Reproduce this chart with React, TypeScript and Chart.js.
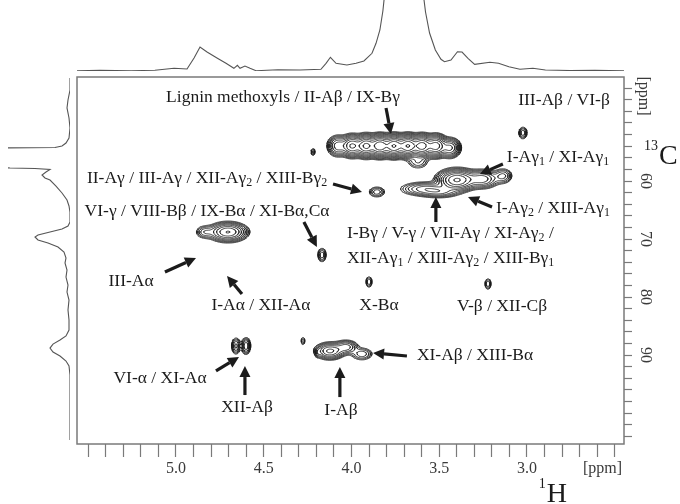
import React, { useEffect, useRef } from 'react';
import { Chart, registerables } from 'chart.js';

Chart.register(...registerables);

// Spectral window (ppm): 1H along x (reversed), 13C along y (reversed)
const H_LEFT = 5.564;
const H_RIGHT = 2.447;
const C_TOP = 42.07;
const C_BOTTOM = 105.34;

// Cross-peaks: 1H shift, 13C shift, height, 1H width, 13C width
const peakH = [
  4.077, 3.997, 3.917, 3.838, 3.758, 3.678, 3.598, 3.519, 3.439,
  3.399, 3.256, 3.581, 3.137, 3.621, 3.496,
  3.023, 3.855, 4.168, 3.9, 3.222,
  4.704, 4.835, 4.658, 4.601,
  4.123, 4.031, 3.94, 4.276, 4.191, 4.219,
];
const peakC = [
  53.96, 53.96, 53.96, 53.96, 53.96, 53.96, 53.96, 53.96, 54.3,
  59.83, 59.66, 61.37, 59.14, 56.73, 61.89,
  51.72, 61.89, 72.76, 77.41, 77.76,
  68.8, 68.8, 88.45, 88.45,
  89.31, 88.63, 89.83, 87.59, 89.65, 55.0,
];
const peakAmp = [
  12, 30, 45, 55, 60, 60, 50, 35, 15,
  30, 12, 8, 5, 3, 6,
  4, 4, 4, 3, 3,
  20, 4, 5, 6,
  15, 8, 4, 2, 2, 2.5,
];
const peakWH = [
  0.0285, 0.0285, 0.0285, 0.0285, 0.0285, 0.0285, 0.0285, 0.0285, 0.0285,
  0.051, 0.046, 0.068, 0.028, 0.034, 0.057,
  0.0142, 0.0256, 0.0142, 0.0114, 0.0114,
  0.051, 0.0285, 0.0142, 0.0142,
  0.04, 0.034, 0.034, 0.0085, 0.0085, 0.0085,
];
const peakWC = [
  0.86, 0.86, 0.86, 0.86, 0.86, 0.86, 0.86, 0.86, 0.8,
  0.862, 0.776, 0.603, 0.689, 0.689, 0.518,
  0.603, 0.518, 0.689, 0.603, 0.603,
  0.776, 0.603, 0.776, 0.776,
  0.689, 0.603, 0.603, 0.518, 0.431, 0.431,
];

// Contour levels (geometric)
const contourBase = 1;
const contourRatio = 1.45;
const contourCount = 14;

// F2 (1H) projection
const topH = [
  5.564, 5.433, 5.256, 5.12, 5.011, 4.937, 4.897, 4.863, 4.823, 4.764, 4.715, 4.67, 4.65,
  4.635, 4.607, 4.578, 4.544, 4.419, 4.293, 4.174, 4.145, 4.12, 4.088, 4.026, 3.974, 3.929,
  3.883, 3.86, 3.838, 3.821, 3.803, 3.6, 3.578, 3.555, 3.522, 3.49, 3.47, 3.433, 3.396,
  3.37, 3.336, 3.298, 3.211, 3.162, 3.103, 3.04, 2.966, 2.895, 2.755, 2.613, 2.447,
];
const topI = [
  0.3, 0.8, 0.3, 0.8, 2.7, 2, 13, 24, 19, 12.7, 7.7, 2.7, 5.7,
  2.7, 5, 2.7, 0.3, 1.3, 1.0, 1.7, 7.7, 13.7, 7.7, 6, 7.7, 10,
  17.7, 27.7, 41, 60, 90, 90, 59, 38, 21, 11.7, 9.3, 11, 19.3,
  19, 12.7, 6.7, 8.7, 7.7, 4.3, 1.7, 2.7, 1, 0.5, 0.8, 0.3,
];

// F1 (13C) projection
const sideC = [
  42.25, 44.31, 46.03, 47.41, 49.14, 50.86, 52.59, 53.45, 53.96, 54.23, 54.31, 57.59, 57.75,
  57.85, 58.02, 58.45, 58.96, 59.48, 59.83, 60.87, 62.07, 63.28, 64.31, 65.35, 67.07, 67.76,
  68.28, 68.8, 69.32, 69.65, 70.17, 70.69, 71.38, 72.24, 73.27, 74.14, 75.35, 76.56, 77.93,
  79.14, 80.52, 82.24, 83.97, 85.69, 86.72, 87.42, 88.11, 88.8, 89.48, 90.17, 91.04, 91.9,
  93.45, 104.65,
];
const sideI = [
  0, 0, 2, 3, 1, 0, 1, 4, 8, 15, 80, 80, 60,
  35, 20, 24, 28, 25, 20, 14, 8, 3, 1, 0, 0, 2,
  8, 20, 32, 35, 32, 22, 12, 6, 4, 5, 3, 4, 2,
  3, 1, 2, 1, 1, 4, 10, 17, 20, 17, 10, 4, 1,
  0, 0,
];

// Assignment labels; "_n" marks a subscript digit. Arrows run tail -> head (1H, 13C).
type Note = {
  lines: string[];
  h: number;
  c: number;
  align: CanvasTextAlign;
  arrow?: [number, number, number, number];
};
const notes: Note[] = [
  { lines: ['Lignin methoxyls / II-Aβ / IX-Bγ'], h: 4.39, c: 45.52, align: 'center', arrow: [3.803, 47.41, 3.775, 51.9] },
  { lines: ['III-Aβ / VI-β'], h: 2.789, c: 46.03, align: 'center' },
  { lines: ['II-Aγ / III-Aγ / XII-Aγ_2 / XIII-Bγ_2'], h: 4.823, c: 59.48, align: 'center', arrow: [4.105, 60.52, 3.94, 61.89] },
  { lines: ['I-Aγ_1 / XI-Aγ_1'], h: 2.823, c: 55.86, align: 'center', arrow: [3.137, 57.07, 3.268, 58.79] },
  { lines: ['I-Aγ_2 / XIII-Aγ_1'], h: 2.852, c: 64.66, align: 'center', arrow: [3.199, 64.49, 3.336, 62.76] },
  { lines: ['I-Bγ / V-γ / VII-Aγ / XI-Aγ_2 /', 'XII-Aγ_1 / XIII-Aγ_2 / XIII-Bγ_1'], h: 4.026, c: 68.97, align: 'left', arrow: [3.519, 67.07, 3.519, 62.76] },
  { lines: ['VI-γ / VIII-Bβ / IX-Bα / XI-Bα,Cα'], h: 4.823, c: 65.18, align: 'center', arrow: [4.271, 67.07, 4.197, 71.38] },
  { lines: ['III-Aα'], h: 5.256, c: 77.24, align: 'center', arrow: [5.063, 75.69, 4.886, 73.27] },
  { lines: ['I-Aα / XII-Aα'], h: 4.516, c: 81.38, align: 'center', arrow: [4.624, 79.48, 4.709, 76.38] },
  { lines: ['X-Bα'], h: 3.843, c: 81.38, align: 'center' },
  { lines: ['V-β / XII-Cβ'], h: 3.142, c: 81.55, align: 'center' },
  { lines: ['VI-α / XI-Aα'], h: 5.091, c: 93.96, align: 'center', arrow: [4.772, 92.75, 4.641, 90.34] },
  { lines: ['XII-Aβ'], h: 4.595, c: 98.97, align: 'center', arrow: [4.607, 96.9, 4.607, 91.9] },
  { lines: ['I-Aβ'], h: 4.06, c: 99.49, align: 'center', arrow: [4.066, 97.25, 4.066, 92.07] },
  { lines: ['XI-Aβ / XIII-Bα'], h: 3.296, c: 90.0, align: 'center', arrow: [3.684, 90.17, 3.877, 89.65] },
];

const SERIF = '"Liberation Serif", "Times New Roman", serif';
const INK = '#1b1b1b';
const AXIS_GREY = '#7a7a7a';
const TICK_TEXT = '#3a3a3a';

// Marching-squares edge pairs for each corner case
const CASES: number[][] = [
  [], [3, 0], [0, 1], [3, 1], [1, 2], [3, 0, 1, 2], [0, 2], [3, 2],
  [2, 3], [0, 2], [0, 1, 2, 3], [1, 2], [1, 3], [0, 1], [0, 3], [],
];

type P = { x: number; y: number };

function contourPoints(): P[] {
  const NX = 800;
  const NY = 540;
  const dx = (H_LEFT - H_RIGHT) / (NX - 1);
  const dy = (C_BOTTOM - C_TOP) / (NY - 1);
  const xs = new Float64Array(NX);
  const ys = new Float64Array(NY);
  for (let i = 0; i < NX; i++) xs[i] = H_RIGHT + i * dx;
  for (let j = 0; j < NY; j++) ys[j] = C_TOP + j * dy;
  const f = new Float64Array(NX * NY);
  for (let p = 0; p < peakH.length; p++) {
    const h = peakH[p], c = peakC[p], a = peakAmp[p], wh = peakWH[p], wc = peakWC[p];
    const i0 = Math.max(0, Math.floor((h - 5 * wh - H_RIGHT) / dx));
    const i1 = Math.min(NX - 1, Math.ceil((h + 5 * wh - H_RIGHT) / dx));
    const j0 = Math.max(0, Math.floor((c - 5 * wc - C_TOP) / dy));
    const j1 = Math.min(NY - 1, Math.ceil((c + 5 * wc - C_TOP) / dy));
    for (let j = j0; j <= j1; j++) {
      const ty = (ys[j] - c) / wc;
      const ey = a * Math.exp(-0.5 * ty * ty);
      for (let i = i0; i <= i1; i++) {
        const tx = (xs[i] - h) / wh;
        f[j * NX + i] += ey * Math.exp(-0.5 * tx * tx);
      }
    }
  }
  const pts: P[] = [];
  for (let k = 0; k < contourCount; k++) {
    const L = contourBase * Math.pow(contourRatio, k);
    for (let j = 0; j < NY - 1; j++) {
      for (let i = 0; i < NX - 1; i++) {
        const v0 = f[j * NX + i];
        const v1 = f[j * NX + i + 1];
        const v2 = f[(j + 1) * NX + i + 1];
        const v3 = f[(j + 1) * NX + i];
        const idx = (v0 > L ? 1 : 0) | (v1 > L ? 2 : 0) | (v2 > L ? 4 : 0) | (v3 > L ? 8 : 0);
        if (idx === 0 || idx === 15) continue;
        const edge = (e: number): P => {
          if (e === 0) { const t = (L - v0) / (v1 - v0); return { x: xs[i] + t * dx, y: ys[j] }; }
          if (e === 1) { const t = (L - v1) / (v2 - v1); return { x: xs[i + 1], y: ys[j] + t * dy }; }
          if (e === 2) { const t = (L - v2) / (v3 - v2); return { x: xs[i + 1] - t * dx, y: ys[j + 1] }; }
          const t = (L - v3) / (v0 - v3);
          return { x: xs[i], y: ys[j + 1] - t * dy };
        };
        const cs = CASES[idx];
        for (let s = 0; s < cs.length; s += 2) {
          pts.push(edge(cs[s]), edge(cs[s + 1]), { x: NaN, y: NaN });
        }
      }
    }
  }
  return pts;
}

function richParts(s: string) {
  const parts: { t: string; sub: boolean }[] = [];
  let buf = '';
  for (let i = 0; i < s.length; i++) {
    if (s[i] === '_' && i + 1 < s.length) {
      if (buf) parts.push({ t: buf, sub: false });
      buf = '';
      parts.push({ t: s[i + 1], sub: true });
      i++;
    } else buf += s[i];
  }
  if (buf) parts.push({ t: buf, sub: false });
  return parts;
}

function drawRich(ctx: CanvasRenderingContext2D, s: string, x: number, y: number, align: CanvasTextAlign) {
  const main = `17.5px ${SERIF}`;
  const sub = `12px ${SERIF}`;
  const parts = richParts(s);
  let w = 0;
  for (const p of parts) {
    ctx.font = p.sub ? sub : main;
    w += ctx.measureText(p.t).width;
  }
  let cx = align === 'center' ? x - w / 2 : align === 'right' ? x - w : x;
  ctx.textAlign = 'left';
  ctx.textBaseline = 'middle';
  for (const p of parts) {
    ctx.font = p.sub ? sub : main;
    ctx.fillText(p.t, cx, p.sub ? y + 4.5 : y);
    cx += ctx.measureText(p.t).width;
  }
}

function drawArrow(ctx: CanvasRenderingContext2D, x1: number, y1: number, x2: number, y2: number) {
  const ang = Math.atan2(y2 - y1, x2 - x1);
  const len = 11;
  const half = 5.5;
  const bx = x2 - len * Math.cos(ang);
  const by = y2 - len * Math.sin(ang);
  ctx.lineWidth = 3.2;
  ctx.lineCap = 'butt';
  ctx.beginPath();
  ctx.moveTo(x1, y1);
  ctx.lineTo(bx, by);
  ctx.stroke();
  ctx.beginPath();
  ctx.moveTo(x2, y2);
  ctx.lineTo(bx + half * Math.sin(ang), by - half * Math.cos(ang));
  ctx.lineTo(bx - half * Math.sin(ang), by + half * Math.cos(ang));
  ctx.closePath();
  ctx.fill();
}

const spectrumDecor = {
  id: 'spectrumDecor',
  afterDraw(chart: any) {
    const { ctx, chartArea: a, scales } = chart;
    const xs = scales.x;
    const ys = scales.y;
    ctx.save();
    // frame
    ctx.strokeStyle = AXIS_GREY;
    ctx.lineWidth = 1.5;
    ctx.strokeRect(a.left, a.top, a.right - a.left, a.bottom - a.top);

    // assignments
    ctx.fillStyle = INK;
    ctx.strokeStyle = INK;
    for (const n of notes) {
      const px = xs.getPixelForValue(n.h);
      const py = ys.getPixelForValue(n.c);
      n.lines.forEach((ln, k) => drawRich(ctx, ln, px, py + k * 25, n.align));
      if (n.arrow) {
        const [h1, c1, h2, c2] = n.arrow;
        drawArrow(ctx, xs.getPixelForValue(h1), ys.getPixelForValue(c1), xs.getPixelForValue(h2), ys.getPixelForValue(c2));
      }
    }

    // axis units and nuclei
    ctx.fillStyle = TICK_TEXT;
    ctx.font = `16px ${SERIF}`;
    ctx.textAlign = 'right';
    ctx.textBaseline = 'middle';
    ctx.fillText('[ppm]', a.right - 2, a.bottom + 25);

    ctx.fillStyle = INK;
    ctx.font = `28px ${SERIF}`;
    ctx.textBaseline = 'alphabetic';
    ctx.textAlign = 'right';
    ctx.fillText('H', a.right - 57, a.bottom + 58);
    const hw = ctx.measureText('H').width;
    ctx.font = `14px ${SERIF}`;
    ctx.fillText('1', a.right - 57 - hw - 1, a.bottom + 44);

    ctx.font = `28px ${SERIF}`;
    ctx.textAlign = 'left';
    ctx.fillText('C', a.right + 35, a.top + 87);
    ctx.font = `14px ${SERIF}`;
    ctx.textAlign = 'right';
    ctx.fillText('13', a.right + 34, a.top + 73);

    ctx.fillStyle = TICK_TEXT;
    ctx.font = `16px ${SERIF}`;
    ctx.translate(a.right + 19, a.top + 19);
    ctx.rotate(Math.PI / 2);
    ctx.textAlign = 'center';
    ctx.textBaseline = 'middle';
    ctx.fillText('[ppm]', 0, 0);
    ctx.restore();
  },
};

export default function App() {
  const mainRef = useRef<HTMLCanvasElement>(null);
  const topRef = useRef<HTMLCanvasElement>(null);
  const sideRef = useRef<HTMLCanvasElement>(null);

  useEffect(() => {
    Chart.defaults.font.family = SERIF;
    const charts: Chart[] = [];

    const base = {
      responsive: false,
      animation: false as const,
      devicePixelRatio: 1,
      events: [] as any[],
      plugins: { legend: { display: false }, tooltip: { enabled: false } },
    };

    if (topRef.current) {
      charts.push(
        new Chart(topRef.current, {
          type: 'scatter',
          data: {
            datasets: [
              {
                data: topH.map((h, i) => ({ x: h, y: topI[i] })),
                showLine: true,
                borderColor: '#555',
                borderWidth: 1.1,
                pointRadius: 0,
              },
            ],
          },
          options: {
            ...base,
            layout: { padding: { left: 77, right: 56, top: 0, bottom: 6 } },
            scales: {
              x: { type: 'linear', display: false, min: H_RIGHT, max: H_LEFT, reverse: true },
              y: { type: 'linear', display: false, min: 0, max: 71 },
            },
          },
        } as any)
      );
    }

    if (sideRef.current) {
      charts.push(
        new Chart(sideRef.current, {
          type: 'scatter',
          data: {
            datasets: [
              {
                data: sideC.map((c, i) => ({ x: sideI[i], y: c })),
                showLine: true,
                borderColor: '#555',
                borderWidth: 1.1,
                pointRadius: 0,
              },
            ],
          },
          options: {
            ...base,
            layout: { padding: { left: 8, right: 7, top: 77, bottom: 60 } },
            scales: {
              x: { type: 'linear', display: false, min: 0, max: 62, reverse: true },
              y: { type: 'linear', display: false, min: C_TOP, max: C_BOTTOM, reverse: true },
            },
          },
        } as any)
      );
    }

    if (mainRef.current) {
      const tickFont = { family: SERIF, size: 16 };
      charts.push(
        new Chart(mainRef.current, {
          type: 'scatter',
          data: {
            datasets: [
              {
                data: contourPoints(),
                showLine: true,
                spanGaps: false,
                borderColor: '#1a1a1a',
                borderWidth: 0.8,
                pointRadius: 0,
              },
            ],
          },
          options: {
            ...base,
            layout: { padding: { left: 77, top: 77, right: 0, bottom: 0 } },
            scales: {
              x: {
                type: 'linear',
                position: 'bottom',
                min: H_RIGHT,
                max: H_LEFT,
                reverse: true,
                border: { display: false },
                grid: { display: true, drawOnChartArea: false, drawTicks: true, tickLength: 13, tickColor: AXIS_GREY, tickWidth: 1.2 },
                ticks: {
                  stepSize: 0.1,
                  includeBounds: false,
                  autoSkip: false,
                  maxRotation: 0,
                  minRotation: 0,
                  padding: 2,
                  color: TICK_TEXT,
                  font: tickFont,
                  callback: (v: any) => {
                    const r = Math.round(v * 2) / 2;
                    return Math.abs(v - r) < 1e-6 && v > 2.75 && v < 5.25 ? r.toFixed(1) : '';
                  },
                },
                afterFit: (s: any) => { s.height = 60; },
              },
              y: {
                type: 'linear',
                position: 'right',
                min: C_TOP,
                max: C_BOTTOM,
                reverse: true,
                border: { display: false },
                grid: { display: true, drawOnChartArea: false, drawTicks: true, tickLength: 8, tickColor: AXIS_GREY, tickWidth: 1.2 },
                ticks: {
                  stepSize: 2,
                  includeBounds: false,
                  autoSkip: false,
                  minRotation: -90,
                  maxRotation: -90,
                  crossAlign: 'center',
                  padding: 5,
                  color: TICK_TEXT,
                  font: tickFont,
                  callback: (v: any) => {
                    const r = Math.round(v / 10) * 10;
                    return Math.abs(v - r) < 1e-6 && v > 55 && v < 95 ? String(r) : '';
                  },
                },
                afterFit: (s: any) => { s.width = 56; },
              },
            },
          },
          plugins: [spectrumDecor],
        } as any)
      );
    }

    return () => charts.forEach((c) => c.destroy());
  }, []);

  return (
    <div style={{ position: 'absolute', left: 0, top: 0, width: 680, height: 504, background: '#fff', overflow: 'hidden' }}>
      <canvas ref={topRef} width={680} height={77} style={{ position: 'absolute', left: 0, top: 0 }} />
      <canvas ref={sideRef} width={77} height={504} style={{ position: 'absolute', left: 0, top: 0 }} />
      <canvas ref={mainRef} width={680} height={504} style={{ position: 'absolute', left: 0, top: 0 }} />
    </div>
  );
}
